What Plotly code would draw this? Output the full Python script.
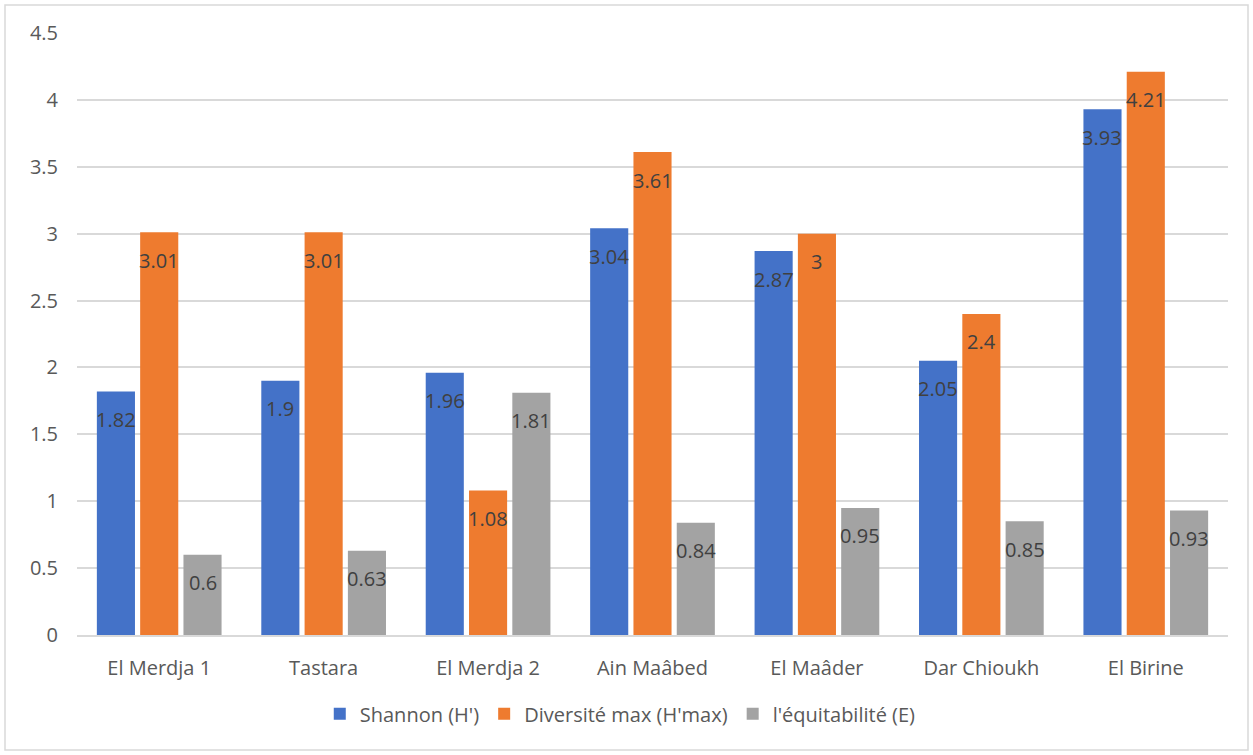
import plotly.graph_objects as go

sites = ["El Merdja 1", "Tastara", "El Merdja 2", "Ain Maâbed", "El Maâder", "Dar Chioukh", "El Birine"]
shannon = [1.82, 1.9, 1.96, 3.04, 2.87, 2.05, 3.93]
hmax = [3.01, 3.01, 1.08, 3.61, 3, 2.4, 4.21]
equit = [0.6, 0.63, 1.81, 0.84, 0.95, 0.85, 0.93]

series = [
    ("Shannon (H')", shannon, "#4472c8"),
    ("Diversité max (H'max)", hmax, "#ee7b2f"),
    ("l'équitabilité (E)", equit, "#a3a3a3"),
]

W, H = 1253, 755
ml, mr, mt, mb = 77, 25, 33, 120
bargap = 0.21
font = "Open Sans"

fig = go.Figure()
for name, vals, col in series:
    fig.add_trace(go.Bar(x=sites, y=vals, name=name, marker_color=col,
                         marker_line_width=0))

# data labels: placed just under the top of each bar
slot = (W - ml - mr) / len(sites) * (1 - bargap) / len(series)
for j, (name, vals, col) in enumerate(series):
    for s, v in zip(sites, vals):
        fig.add_annotation(x=s, y=v, text=str(v), showarrow=False,
                           xshift=(j - 1) * slot, yshift=-28,
                           font=dict(size=20, color="#404040", family=font))

# outer chart border
fig.add_shape(type="rect", xref="paper", yref="paper",
              x0=-(ml - 5) / (W - ml - mr), x1=1 + (mr - 5) / (W - ml - mr),
              y0=-(mb - 5) / (H - mt - mb), y1=1 + (mt - 5) / (H - mt - mb),
              line=dict(color="#d9d9d9", width=1.5))

fig.update_layout(
    width=W, height=H,
    margin=dict(l=ml, r=mr, t=mt, b=mb),
    barmode="group", bargap=bargap, bargroupgap=0.12,
    plot_bgcolor="white", paper_bgcolor="white",
    font=dict(family=font, size=20, color="#595959"),
    legend=dict(orientation="h", x=0.472, xanchor="center", y=-0.131, yanchor="middle",
                font=dict(size=20, color="#595959"), itemwidth=30, traceorder="normal"),
    yaxis=dict(range=[0, 4.5], dtick=0.5, showgrid=True, gridcolor="#d9d9d9",
               gridwidth=1.5, zeroline=False, ticks="", ticklabelstandoff=18),
    xaxis=dict(showline=True, linecolor="#d9d9d9", linewidth=1.5, ticks="",
               ticklabelstandoff=14),
)

fig.write_html("out.html", config={"displayModeBar": False},
               post_script="document.body.style.margin='0px';")
